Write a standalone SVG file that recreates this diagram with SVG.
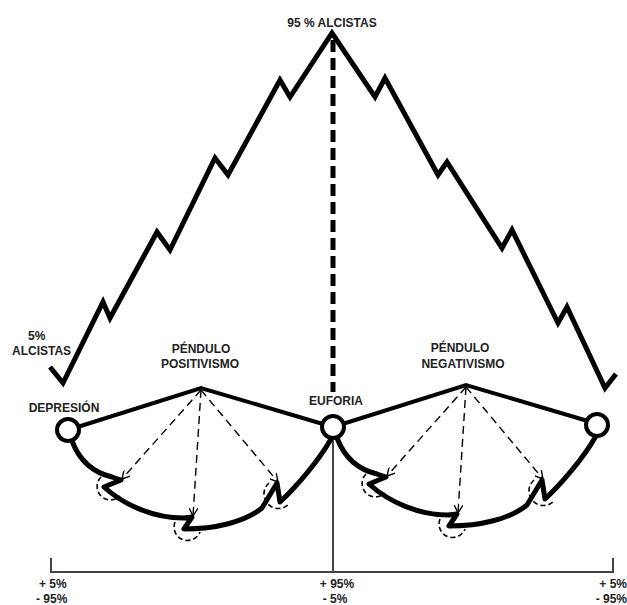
<svg xmlns="http://www.w3.org/2000/svg" width="627" height="605" viewBox="0 0 627 605">
<defs>
<style>
.lbl{font-family:"Liberation Sans",Arial,sans-serif;font-weight:bold;font-size:12px;fill:#222;}
.zig{fill:none;stroke:#000;stroke-width:5;stroke-linejoin:miter;stroke-linecap:butt;}
.pend{fill:none;stroke:#000;stroke-width:4;stroke-linejoin:miter;}
.curve{fill:none;stroke:#000;stroke-width:5;stroke-linejoin:round;}
.ray{fill:none;stroke:#000;stroke-width:1.4;stroke-dasharray:8 5;}
.arc{fill:none;stroke:#000;stroke-width:1.6;stroke-dasharray:5 3;}
.axis{fill:none;stroke:#444;stroke-width:2;}
.node{fill:#fff;stroke:#000;stroke-width:4;}
</style>
<marker id="open" viewBox="0 0 10 10" refX="9" refY="5" markerWidth="9" markerHeight="9" orient="auto" markerUnits="userSpaceOnUse">
<path d="M0,0 L9,5 L0,10" fill="none" stroke="#000" stroke-width="1.5"/>
</marker>
</defs>
<rect width="627" height="605" fill="#fff"/>

<g id="connectors">
<polyline class="zig" points="50,367 63,383 103,302 110,318 157,232 170,250 215,158 228,175 280,80 290,97 332,33 375,97 385,78 438,175 447,162 502,248 512,230 558,323 567,307 605,388 616,374"/>
<line x1="333" y1="40" x2="333" y2="392" stroke="#000" stroke-width="5" stroke-dasharray="12 6"/>
<polyline class="axis" points="51,558 51,572 613,572 613,558"/>
<line class="axis" x1="333" y1="440" x2="333" y2="572" stroke-width="1.8"/>

<g id="pendulum-left">
<polyline class="pend" points="68,430 201,388 333,427"/>
<path class="curve" d="M72,441 C80,462 95,473 112,477 L121,480 L104,487 C125,506 155,518 183,518 L192,517 L184,529 C215,529 245,522 262,508 L277,483 L280,502 C295,488 318,462 331,439"/>
<line class="ray" x1="201" y1="390" x2="122" y2="479" marker-end="url(#open)"/>
<line class="ray" x1="201" y1="390" x2="193" y2="516" marker-end="url(#open)"/>
<line class="ray" x1="201" y1="390" x2="278" y2="482" marker-end="url(#open)"/>
<path class="arc" d="M101,477 A13,13 0 0 0 120,496"/>
<path class="arc" d="M175,522 A13,13 0 0 0 200,532"/>
<path class="arc" d="M269,483 A13,13 0 0 0 288,505"/>
</g>

<g id="pendulum-right" transform="translate(265,-3)">
<polyline class="pend" points="68,430 201,388 333,427"/>
<path class="curve" d="M72,441 C80,462 95,473 112,477 L121,480 L104,487 C125,506 155,518 183,518 L192,517 L184,529 C215,529 245,522 262,508 L277,483 L280,502 C295,488 318,462 331,439"/>
<line class="ray" x1="201" y1="390" x2="122" y2="479" marker-end="url(#open)"/>
<line class="ray" x1="201" y1="390" x2="193" y2="516" marker-end="url(#open)"/>
<line class="ray" x1="201" y1="390" x2="278" y2="482" marker-end="url(#open)"/>
<path class="arc" d="M101,477 A13,13 0 0 0 120,496"/>
<path class="arc" d="M175,522 A13,13 0 0 0 200,532"/>
<path class="arc" d="M269,483 A13,13 0 0 0 288,505"/>
</g>
</g>

<g id="node-depresion">
<circle class="node" cx="68" cy="430" r="11"/>
<text class="lbl" x="64" y="412" text-anchor="middle">DEPRESIÓN</text>
</g>
<g id="node-euforia">
<circle class="node" cx="333" cy="427" r="11"/>
<text class="lbl" x="336" y="405" text-anchor="middle">EUFORIA</text>
</g>
<g id="node-right">
<circle class="node" cx="597" cy="425" r="11"/>
</g>

<g id="label-top">
<text class="lbl" x="332" y="27" text-anchor="middle">95 % ALCISTAS</text>
</g>
<g id="label-5alcistas">
<text class="lbl" x="28" y="340">5%</text>
<text class="lbl" x="12" y="355">ALCISTAS</text>
</g>
<g id="label-positivismo">
<text class="lbl" x="201" y="353" text-anchor="middle">PÉNDULO</text>
<text class="lbl" x="200" y="368" text-anchor="middle">POSITIVISMO</text>
</g>
<g id="label-negativismo">
<text class="lbl" x="460" y="352" text-anchor="middle">PÉNDULO</text>
<text class="lbl" x="463" y="368" text-anchor="middle">NEGATIVISMO</text>
</g>
<g id="axis-labels">
<text class="lbl" x="39" y="588">+ 5%</text>
<text class="lbl" x="36" y="603">- 95%</text>
<text class="lbl" x="337" y="588" text-anchor="middle">+ 95%</text>
<text class="lbl" x="335" y="603" text-anchor="middle">- 5%</text>
<text class="lbl" x="627" y="588" text-anchor="end">+ 5%</text>
<text class="lbl" x="627" y="603" text-anchor="end">- 95%</text>
</g>
</svg>
